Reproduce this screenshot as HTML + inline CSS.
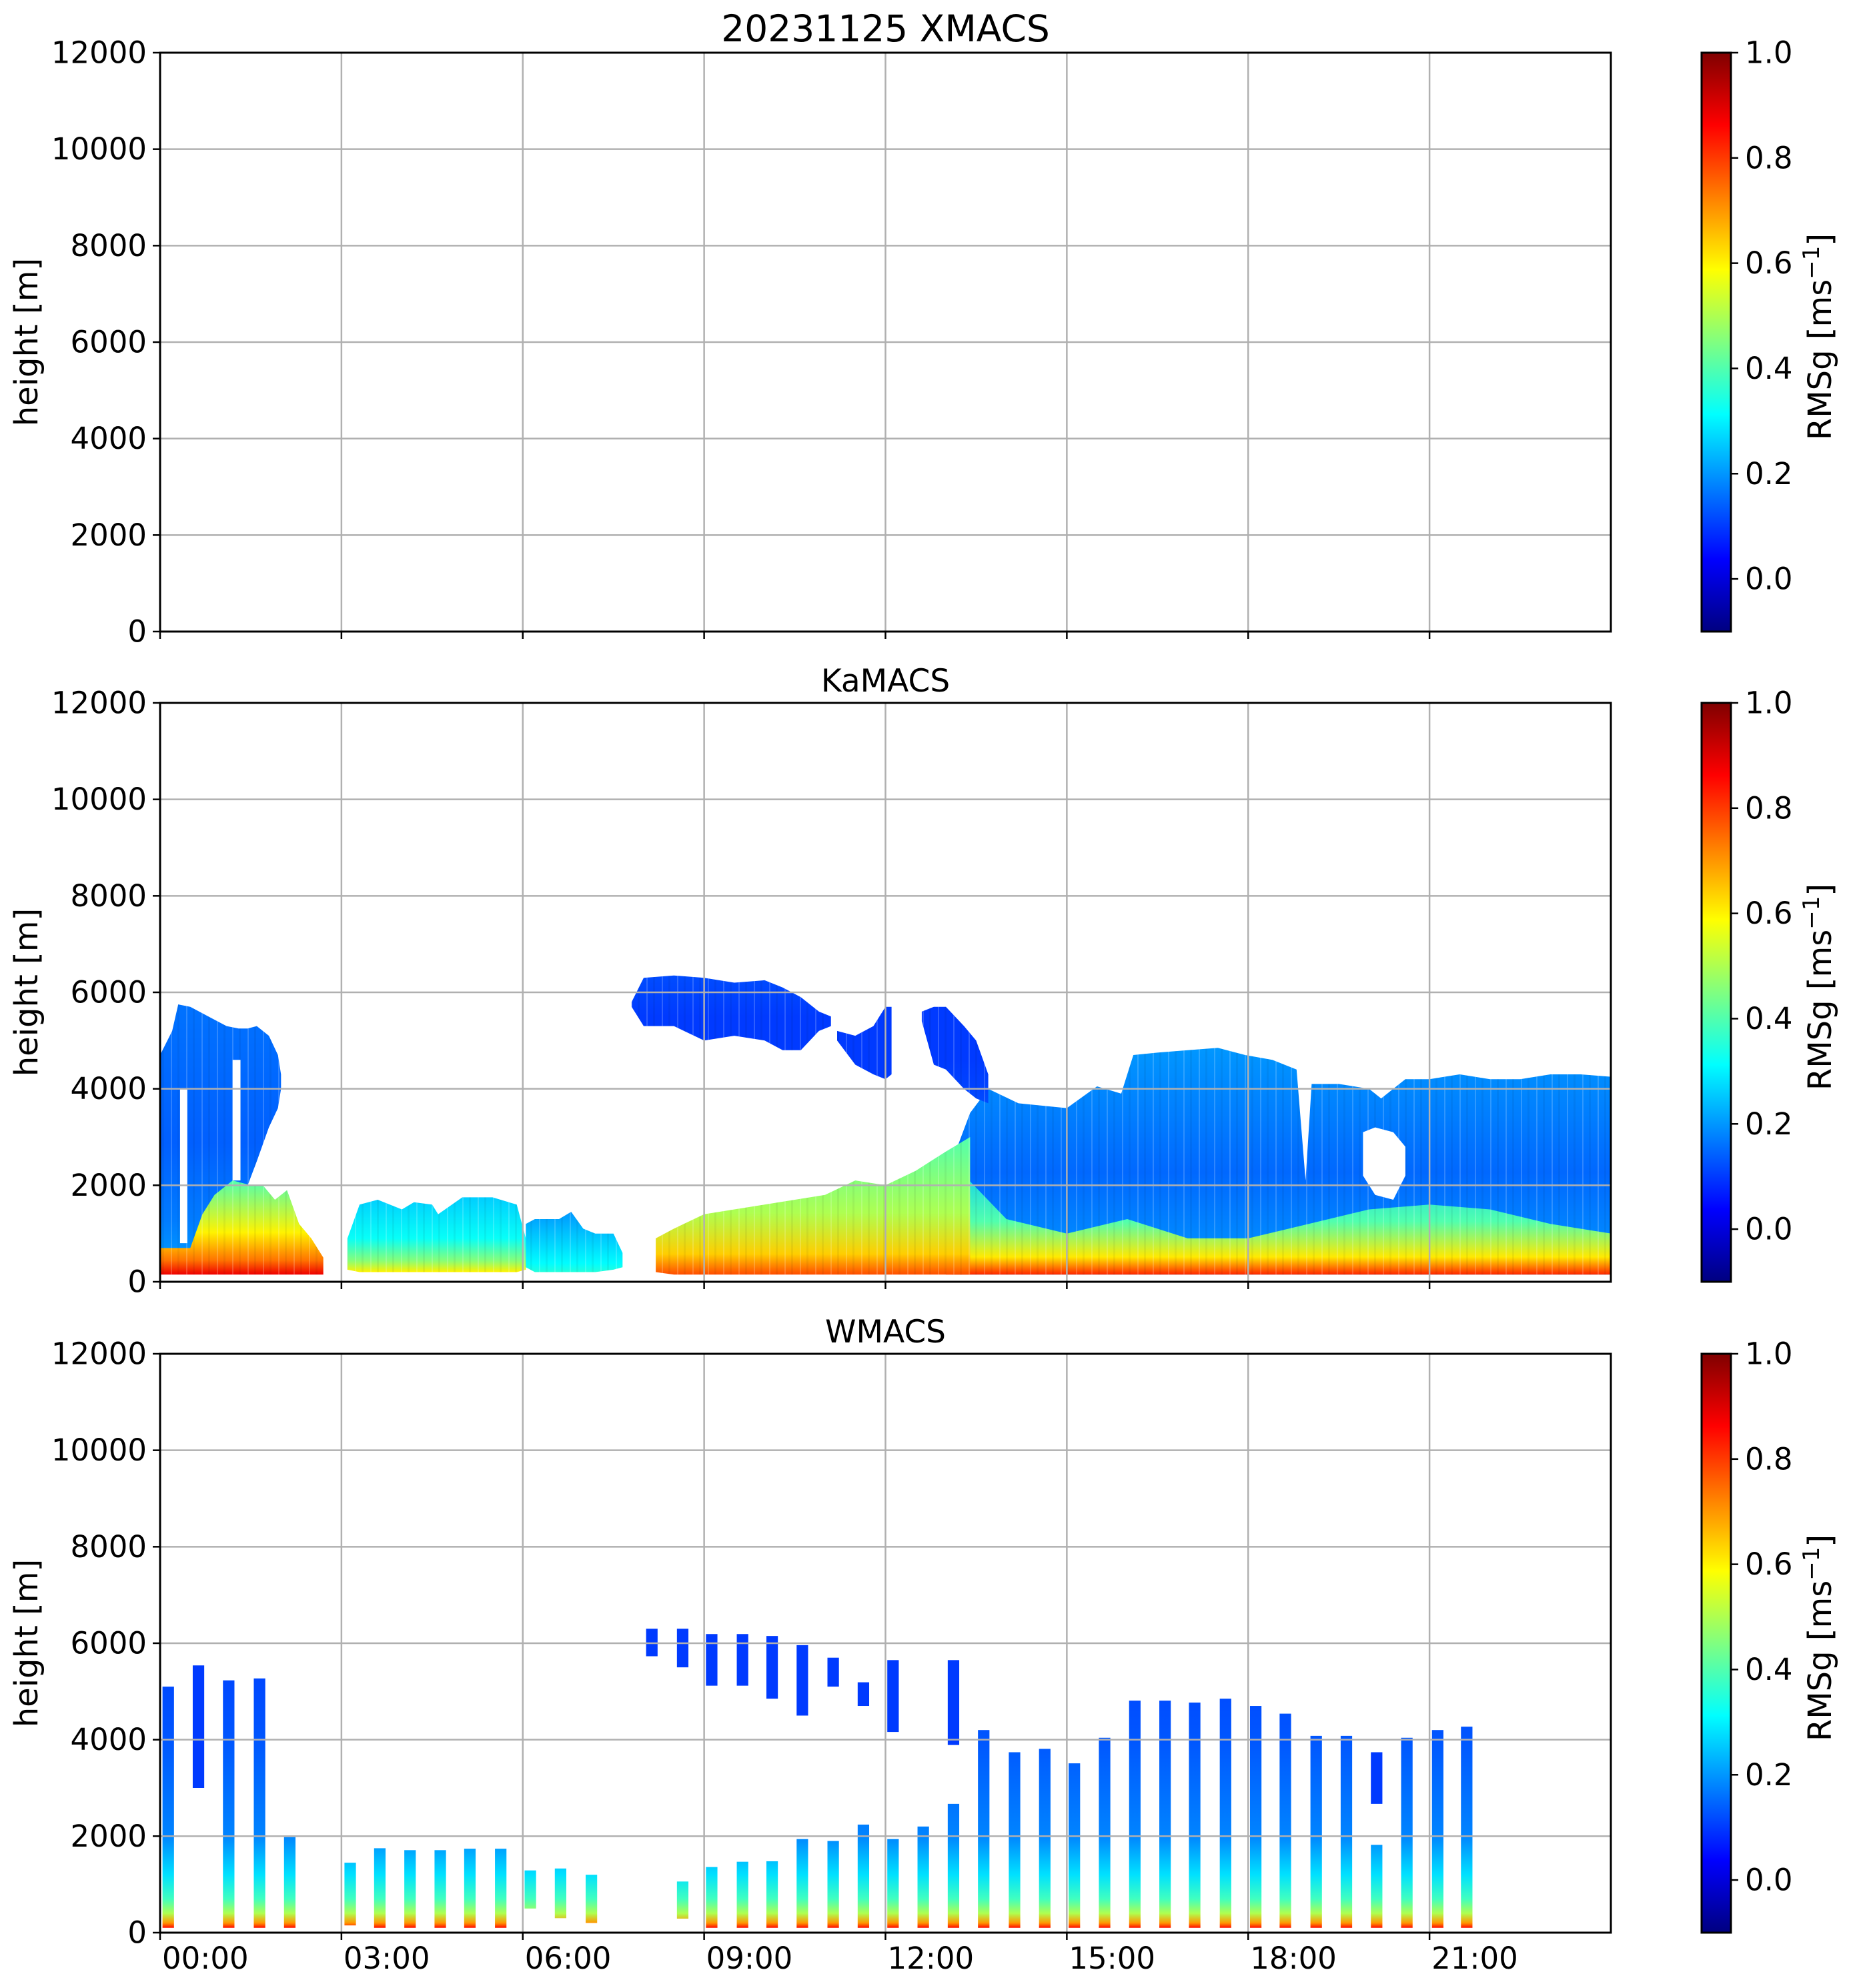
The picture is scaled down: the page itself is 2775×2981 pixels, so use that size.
<!DOCTYPE html>
<html>
<head>
<meta charset="utf-8">
<style>
  html,body{margin:0;padding:0;background:#fff;}
  svg{display:block;}
  text{font-family:"DejaVu Sans","Liberation Sans",sans-serif;fill:#000;}
</style>
</head>
<body>
<svg id="fig" width="2775" height="2981" viewBox="0 0 2775 2981" xmlns="http://www.w3.org/2000/svg">
  <defs id="defs"></defs>
  <rect x="0" y="0" width="2775" height="2981" fill="#fff"/>
</svg>
<script>
// ---------------- DATA ----------------
const panelTitles = ["20231125 XMACS", "KaMACS", "WMACS"];
const yTicks = [0, 2000, 4000, 6000, 8000, 10000, 12000];
const xTicksHours = [0, 3, 6, 9, 12, 15, 18, 21];
const xTickLabels = ["00:00", "03:00", "06:00", "09:00", "12:00", "15:00", "18:00", "21:00"];
const cbTicks = [0.0, 0.2, 0.4, 0.6, 0.8, 1.0];
const cbTickLabels = ["0.0", "0.2", "0.4", "0.6", "0.8", "1.0"];

// KaMACS cloud blobs: hours, top heights [m], base heights [m], values (top, middle, base)
const kaEarlyHours = [0, 0.2, 0.3, 0.5, 0.8, 1.1, 1.3, 1.45, 1.6, 1.8, 1.95, 2.0];
const kaEarlyTops  = [4700, 5200, 5750, 5700, 5500, 5300, 5250, 5250, 5300, 5100, 4700, 4300];
const kaEarlyBases = [500, 500, 500, 600, 700, 700, 800, 2000, 2500, 3200, 3600, 4000];
const kaEarlyVals  = [0.16, 0.14, 0.2];

const kaLowEarlyHours = [0, 0.5, 0.7, 0.9, 1.2, 1.5, 1.7, 1.9, 2.1, 2.3, 2.5, 2.7];
const kaLowEarlyTops  = [700, 700, 1400, 1800, 2100, 2000, 2000, 1700, 1900, 1200, 900, 500];
const kaLowEarlyBases = [150, 150, 150, 150, 150, 150, 150, 150, 150, 150, 150, 150];
const kaLowEarlyVals  = [0.4, 0.6, 0.88];

const kaLow3Hours = [3.1, 3.3, 3.6, 4.0, 4.2, 4.5, 4.6, 5.0, 5.5, 5.9, 6.05];
const kaLow3Tops  = [900, 1600, 1700, 1500, 1650, 1600, 1400, 1750, 1750, 1600, 900];
const kaLow3Bases = [250, 200, 200, 200, 200, 200, 200, 200, 200, 200, 250];
const kaLow3Vals  = [0.26, 0.32, 0.6];

const kaLow6Hours = [6.05, 6.2, 6.6, 6.8, 7.0, 7.2, 7.5, 7.65];
const kaLow6Tops  = [1200, 1300, 1300, 1450, 1100, 1000, 1000, 600];
const kaLow6Bases = [300, 200, 200, 200, 200, 200, 250, 300];
const kaLow6Vals  = [0.2, 0.27, 0.35];

const kaLow8Hours = [8.2, 8.5, 9.0, 9.5, 10.0, 10.5, 11.0, 11.5, 12.0, 12.5, 13.0, 13.4];
const kaLow8Tops  = [900, 1100, 1400, 1500, 1600, 1700, 1800, 2100, 2000, 2300, 2700, 3000];
const kaLow8Bases = [200, 150, 150, 150, 150, 150, 150, 150, 150, 150, 150, 150];
const kaLow8Vals  = [0.4, 0.5, 0.78];

const kaMidHours = [7.8, 8.0, 8.5, 9.0, 9.5, 10.0, 10.3, 10.6, 10.9, 11.1];
const kaMidTops  = [5800, 6300, 6350, 6300, 6200, 6250, 6100, 5900, 5600, 5500];
const kaMidBases = [5700, 5300, 5300, 5000, 5100, 5000, 4800, 4800, 5200, 5300];
const kaMidVals  = [0.12, 0.1, 0.1];

const kaPatchHours = [11.2, 11.5, 11.8, 12.0, 12.1];
const kaPatchTops  = [5200, 5100, 5300, 5700, 5700];
const kaPatchBases = [5000, 4500, 4300, 4200, 4300];
const kaPatchVals  = [0.1, 0.1, 0.1];

const kaPatch2Hours = [12.6, 12.8, 13.0, 13.3, 13.5, 13.7];
const kaPatch2Tops  = [5600, 5700, 5700, 5300, 5000, 4300];
const kaPatch2Bases = [5400, 4500, 4400, 4000, 3800, 3700];
const kaPatch2Vals  = [0.1, 0.1, 0.12];

const kaMainHours = [13.1, 13.4, 13.7, 14.2, 14.6, 15.0, 15.5, 15.9, 16.1, 16.5, 17.0, 17.5, 17.95, 18.4, 18.8, 18.95, 19.05, 19.5, 20.0, 20.2, 20.6, 21.0, 21.5, 22.0, 22.5, 23.0, 23.5, 24.0];
const kaMainTops  = [2500, 3500, 4000, 3700, 3650, 3600, 4050, 3900, 4700, 4750, 4800, 4850, 4700, 4600, 4400, 2100, 4100, 4100, 4000, 3800, 4200, 4200, 4300, 4200, 4200, 4300, 4300, 4250];
const kaMainBases = kaMainHours.map(() => 150);
const kaMainVals  = [0.2, 0.15, 0.22];

const kaLowLateHours = [13.0, 14, 15, 16, 17, 18, 19, 20, 21, 22, 23, 24];
const kaLowLateTops  = [2600, 1300, 1000, 1300, 900, 900, 1200, 1500, 1600, 1500, 1200, 1000];
const kaLowLateBases = [150, 150, 150, 150, 150, 150, 150, 150, 150, 150, 150, 150];
const kaLowLateVals  = [0.25, 0.4, 0.82];

// white holes
const kaGapHours = [19.9, 20.1, 20.4, 20.6];
const kaGapTops  = [3100, 3200, 3100, 2800];
const kaGapBases = [2200, 1800, 1700, 2200];
const kaEarlyGapStarts = [0.33, 1.2];
const kaEarlyGapEnds   = [0.45, 1.33];
const kaEarlyGapTops   = [4000, 4600];
const kaEarlyGapBases  = [800, 2100];

// WMACS scan bars: start hour, top height, base height
const wStarts = [0.04, 1.04, 1.55, 2.05, 3.05, 3.54, 4.04, 4.54, 5.03, 5.54, 6.03, 6.53, 7.04, 8.55, 9.03, 9.54, 10.03, 10.53, 11.04, 11.54, 12.03, 12.53, 13.03, 13.53, 14.04, 14.54, 15.03, 15.53, 16.03, 16.53, 17.02, 17.53, 18.03, 18.52, 19.03, 19.53, 20.03, 20.53, 21.04, 21.52];
const wTops   = [5100, 5230, 5270, 1980, 1450, 1750, 1710, 1710, 1740, 1740, 1290, 1330, 1200, 1060, 1360, 1470, 1480, 1940, 1900, 2240, 1940, 2200, 2670, 4200, 3740, 3810, 3510, 4040, 4810, 4810, 4770, 4850, 4700, 4540, 4080, 4080, 1820, 4040, 4200, 4270];
const wBases  = [100, 100, 100, 100, 150, 100, 100, 100, 100, 100, 500, 300, 200, 290, 100, 100, 100, 100, 100, 100, 100, 100, 100, 100, 100, 100, 100, 100, 100, 100, 100, 100, 100, 100, 100, 100, 100, 100, 100, 100];
// WMACS upper (mid-level) segments
const wUpStarts = [0.54, 8.04, 8.55, 9.03, 9.54, 10.03, 10.53, 11.04, 11.54, 12.03, 13.03, 20.03];
const wUpTops   = [5540, 6300, 6300, 6190, 6190, 6150, 5960, 5700, 5190, 5650, 5650, 3740];
const wUpBases  = [3000, 5730, 5500, 5120, 5120, 4850, 4500, 5100, 4700, 4160, 3890, 2670];
const wBarWidthHours = 0.19;

// ---------------- LAYOUT ----------------
const NS = "http://www.w3.org/2000/svg";
const svg = document.getElementById("fig");
const defs = document.getElementById("defs");
const X0 = 240, X1 = 2415;
const panelTops = [79, 1054, 2030];
const PH = 868;
const CBX = 2551, CBW = 44;
const xScale = h => X0 + (X1 - X0) * h / 24;
const yScale = (m, p) => panelTops[p] + PH - PH * m / 12000;
const cbScale = (v, p) => panelTops[p] + PH - PH * (v + 0.1) / 1.1;

function jet(v) {
  const n = Math.max(0, Math.min(1, (v + 0.1) / 1.1));
  const c = t => Math.round(255 * Math.max(0, Math.min(1, t)));
  return `rgb(${c(1.5 - Math.abs(4 * n - 3))},${c(1.5 - Math.abs(4 * n - 2))},${c(1.5 - Math.abs(4 * n - 1))})`;
}
function mk(tag, attrs, parent) {
  const e = document.createElementNS(NS, tag);
  for (const k in attrs) e.setAttribute(k, attrs[k]);
  (parent || svg).appendChild(e);
  return e;
}

const cbg = mk("linearGradient", {id: "cbgrad", x1: "0", y1: "1", x2: "0", y2: "0"}, defs);
for (let i = 0; i <= 40; i++) {
  const v = -0.1 + 1.1 * i / 40;
  mk("stop", {offset: (i / 40).toFixed(3), "stop-color": jet(v)}, cbg);
}
const wProfileHeights = [6500, 4000, 2000, 1200, 700, 400, 200, 100];
const wProfileVals    = [0.1, 0.13, 0.18, 0.28, 0.38, 0.5, 0.7, 0.85];
const wg = mk("linearGradient", {id: "wgrad", gradientUnits: "userSpaceOnUse", x1: "0", y1: yScale(6500, 2), x2: "0", y2: yScale(100, 2)}, defs);
wProfileHeights.forEach((m, i) => {
  mk("stop", {offset: ((6500 - m) / 6400).toFixed(3), "stop-color": jet(wProfileVals[i])}, wg);
});
const pat = mk("pattern", {id: "stripes", width: "23", height: "10", patternUnits: "userSpaceOnUse"}, defs);
mk("rect", {x: "3", y: "0", width: "2", height: "10", fill: "#fff", opacity: "0.18"}, pat);
mk("rect", {x: "13", y: "0", width: "3", height: "10", fill: "#000", opacity: "0.05"}, pat);

let gradCount = 0;
function blobGradient(vals) {
  const id = "bg" + (gradCount++);
  const g = mk("linearGradient", {id: id, x1: "0", y1: "0", x2: "0", y2: "1"}, defs);
  mk("stop", {offset: "0", "stop-color": jet(vals[0])}, g);
  mk("stop", {offset: "0.55", "stop-color": jet(vals[1])}, g);
  mk("stop", {offset: "0.85", "stop-color": jet((vals[1] + vals[2]) / 2)}, g);
  mk("stop", {offset: "1", "stop-color": jet(vals[2])}, g);
  return id;
}
function blobPath(hours, tops, bases, p) {
  let d = "";
  hours.forEach((h, i) => { d += (i ? "L" : "M") + xScale(h).toFixed(1) + "," + yScale(tops[i], p).toFixed(1); });
  for (let i = hours.length - 1; i >= 0; i--) d += "L" + xScale(hours[i]).toFixed(1) + "," + yScale(bases[i], p).toFixed(1);
  return d + "Z";
}

panelTops.forEach((top, p) => {
  const g = mk("g", {});
  
  

  const t = mk("text", {x: (X0 + X1) / 2, y: top - 17, "text-anchor": "middle", "font-size": p === 0 ? 55 : 47}, g);
  t.textContent = panelTitles[p];
  
  

  const dg = mk("g", {}, g);
  
  
  if (p === 1) {
    const blobs = [
      [kaMainHours, kaMainTops, kaMainBases, kaMainVals, 'ka-main-cloud'],
      [kaLowLateHours, kaLowLateTops, kaLowLateBases, kaLowLateVals, 'ka-low-late'],
      [kaEarlyHours, kaEarlyTops, kaEarlyBases, kaEarlyVals, 'ka-early-cloud'],
      [kaLowEarlyHours, kaLowEarlyTops, kaLowEarlyBases, kaLowEarlyVals, 'ka-low-early'],
      [kaLow3Hours, kaLow3Tops, kaLow3Bases, kaLow3Vals, 'ka-low-3h'],
      [kaLow6Hours, kaLow6Tops, kaLow6Bases, kaLow6Vals, 'ka-low-6h'],
      [kaLow8Hours, kaLow8Tops, kaLow8Bases, kaLow8Vals, 'ka-low-8h'],
      [kaMidHours, kaMidTops, kaMidBases, kaMidVals, 'ka-mid-cloud'],
      [kaPatchHours, kaPatchTops, kaPatchBases, kaPatchVals, 'ka-mid-patch'],
      [kaPatch2Hours, kaPatch2Tops, kaPatch2Bases, kaPatch2Vals, 'ka-mid-patch-2']
    ];
    blobs.forEach(b => {
      const id = blobGradient(b[3]);
      const path = mk("path", {d: blobPath(b[0], b[1], b[2], 1), fill: "url(#" + id + ")"}, dg);
      
      
      const tex = mk("path", {d: blobPath(b[0], b[1], b[2], 1), fill: "url(#stripes)"}, dg);
      
      
    });
    const gap = mk("path", {d: blobPath(kaGapHours, kaGapTops, kaGapBases, 1), fill: "#fff"}, dg);
    
    
    kaEarlyGapStarts.forEach((s, i) => {
      const r = mk("rect", {x: xScale(s), y: yScale(kaEarlyGapTops[i], 1), width: xScale(kaEarlyGapEnds[i]) - xScale(s), height: yScale(kaEarlyGapBases[i], 1) - yScale(kaEarlyGapTops[i], 1), fill: "#fff"}, dg);
      
      
    });
  }
  if (p === 2) {
    wStarts.forEach((s, i) => {
      const r = mk("rect", {x: xScale(s), y: yScale(wTops[i], 2), width: xScale(s + wBarWidthHours) - xScale(s), height: yScale(wBases[i], 2) - yScale(wTops[i], 2), fill: "url(#wgrad)"}, dg);
      
      
    });
    wUpStarts.forEach((s, i) => {
      const r = mk("rect", {x: xScale(s), y: yScale(wUpTops[i], 2), width: xScale(s + wBarWidthHours) - xScale(s), height: yScale(wUpBases[i], 2) - yScale(wUpTops[i], 2), fill: jet(0.1)}, dg);
      
      
    });
  }

  yTicks.forEach(m => {
    const y = yScale(m, p);
    const l = mk("line", {x1: X0, x2: X1, y1: y, y2: y, stroke: "#b0b0b0", "stroke-width": 2.5}, g);
    
    
    const tk = mk("line", {x1: X0 - 11, x2: X0, y1: y, y2: y, stroke: "#000", "stroke-width": 2.5}, g);
    
    
    const tl = mk("text", {x: X0 - 20, y: y, "text-anchor": "end", "dominant-baseline": "central", "font-size": 45}, g);
    tl.textContent = String(m);
    
    
  });
  xTicksHours.forEach((h, i) => {
    const x = xScale(h);
    const l = mk("line", {x1: x, x2: x, y1: top, y2: top + PH, stroke: "#b0b0b0", "stroke-width": 2.5}, g);
    
    
    const tk = mk("line", {x1: x, x2: x, y1: top + PH, y2: top + PH + 11, stroke: "#000", "stroke-width": 2.5}, g);
    
    
    if (p === 2) {
      const tl = mk("text", {x: x + 3, y: 2952, "text-anchor": "start", "font-size": 45}, g);
      tl.textContent = xTickLabels[i];
      
      
    }
  });
  const fr = mk("rect", {x: X0, y: top, width: X1 - X0, height: PH, fill: "none", stroke: "#000", "stroke-width": 3}, g);
  
  

  const yl = mk("text", {x: 0, y: 0, transform: `translate(56,${top + PH / 2}) rotate(-90)`, "text-anchor": "middle", "font-size": 48}, g);
  yl.textContent = "height [m]";
  
  

  const cb = mk("rect", {x: CBX, y: top, width: CBW, height: PH, fill: "url(#cbgrad)", stroke: "#000", "stroke-width": 3}, g);
  
  
  cbTicks.forEach((v, i) => {
    const y = cbScale(v, p);
    const tk = mk("line", {x1: CBX + CBW, x2: CBX + CBW + 11, y1: y, y2: y, stroke: "#000", "stroke-width": 2.5}, g);
    
    
    const tl = mk("text", {x: CBX + CBW + 21, y: y, "dominant-baseline": "central", "font-size": 45}, g);
    tl.textContent = cbTickLabels[i];
    
    
  });
  const cl = mk("text", {x: 0, y: 0, transform: `translate(2745,${top + PH / 2 - 8}) rotate(-90)`, "text-anchor": "middle", "font-size": 48}, g);
  
  
  cl.appendChild(document.createTextNode("RMSg [ms"));
  const sup = mk("tspan", {dy: -18, "font-size": 34}, cl);
  sup.textContent = "\u22121";
  const close = mk("tspan", {dy: 18}, cl);
  close.textContent = "]";
});
</script>
</body>
</html>
